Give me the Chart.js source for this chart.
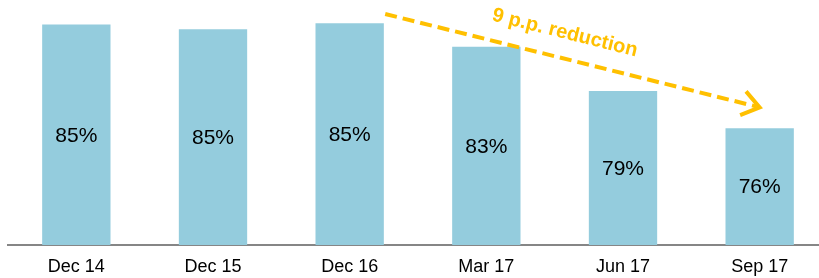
<!DOCTYPE html>
<html>
<head>
<meta charset="utf-8">
<script src="https://cdn.jsdelivr.net/npm/chart.js@4/dist/chart.umd.min.js"></script>
<style>
html,body{margin:0;padding:0;background:#fff;overflow:hidden;width:819px;height:278px;}
#wrap{position:relative;width:828px;height:278px;}
</style>
</head>
<body>
<div id="wrap"><canvas id="c" width="828" height="278"></canvas></div>
<script>
const categories = ['Dec 14', 'Dec 15', 'Dec 16', 'Mar 17', 'Jun 17', 'Sep 17'];
const shareValues = [84.9, 84.5, 85.0, 83.0, 79.2, 76.0];
const valueLabels = ['85%', '85%', '85%', '83%', '79%', '76%'];
// trend annotation: [category index, value]
const arrowFrom = [2.26, 85.8];
const arrowTo = [5.0, 77.8];
const arrowText = '9 p.p. reduction';

const FONT = '"Liberation Sans", Arial, sans-serif';

const labelPlugin = {
  id: 'barCenterLabels',
  afterDraw(chart) {
    const ctx = chart.ctx;
    const meta = chart.getDatasetMeta(0);
    const ys = chart.scales.y;
    ctx.save();
    ctx.font = '21px ' + FONT;
    ctx.fillStyle = '#000000';
    ctx.textAlign = 'center';
    ctx.textBaseline = 'middle';
    meta.data.forEach((bar, i) => {
      const p = bar.getProps(['x', 'y', 'base'], true);
      const top = ys.getPixelForValue(shareValues[i]);
      const base = ys.bottom;
      ctx.fillText(valueLabels[i], p.x, (top + base) / 2 + 1);
    });
    ctx.restore();
  }
};

const arrowPlugin = {
  id: 'trendArrow',
  afterDraw(chart) {
    const xs = chart.scales.x, ys = chart.scales.y;
    const x1 = xs.getPixelForValue(arrowFrom[0]), y1 = ys.getPixelForValue(arrowFrom[1]);
    const x2 = xs.getPixelForValue(arrowTo[0]), y2 = ys.getPixelForValue(arrowTo[1]);
    const ang = Math.atan2(y2 - y1, x2 - x1);
    const ctx = chart.ctx;
    ctx.save();
    ctx.strokeStyle = '#FFC000';
    ctx.lineWidth = 4;
    ctx.setLineDash([12, 6]);
    ctx.beginPath();
    ctx.moveTo(x1, y1);
    ctx.lineTo(x2 - 3 * Math.cos(ang), y2 - 3 * Math.sin(ang));
    ctx.stroke();
    ctx.setLineDash([]);
    ctx.lineJoin = 'miter';
    ctx.beginPath();
    const L = 21, a = 0.62;
    ctx.moveTo(x2 - L * Math.cos(ang - a), y2 - L * Math.sin(ang - a));
    ctx.lineTo(x2, y2);
    ctx.lineTo(x2 - L * Math.cos(ang + a), y2 - L * Math.sin(ang + a));
    ctx.stroke();
    // text
    const mx = (x1 + x2) / 2, my = (y1 + y2) / 2;
    ctx.translate(mx, my);
    ctx.rotate(ang);
    ctx.font = 'bold 20px ' + FONT;
    ctx.fillStyle = '#FFC000';
    ctx.textAlign = 'center';
    ctx.textBaseline = 'middle';
    ctx.fillText(arrowText, -14, -25);
    ctx.restore();
  }
};

new Chart(document.getElementById('c'), {
  type: 'bar',
  data: {
    labels: categories,
    datasets: [{
      data: shareValues,
      backgroundColor: '#94CCDD',
      borderWidth: 0,
      categoryPercentage: 1.0,
      barPercentage: 0.5
    }]
  },
  options: {
    responsive: false,
    animation: false,
    devicePixelRatio: 1,
    layout: { padding: { left: 8, right: 0, top: 0, bottom: 0 } },
    plugins: { legend: { display: false }, tooltip: { enabled: false } },
    scales: {
      x: {
        grid: { display: false, drawTicks: false },
        border: { display: true, color: '#868686', width: 2 },
        ticks: { color: '#000', font: { family: FONT, size: 18 }, padding: 11 },
        afterFit(scale) { scale.height = 33; }
      },
      y: {
        display: false,
        min: 66,
        max: 87
      }
    }
  },
  plugins: [labelPlugin, arrowPlugin]
});
</script>
</body>
</html>
